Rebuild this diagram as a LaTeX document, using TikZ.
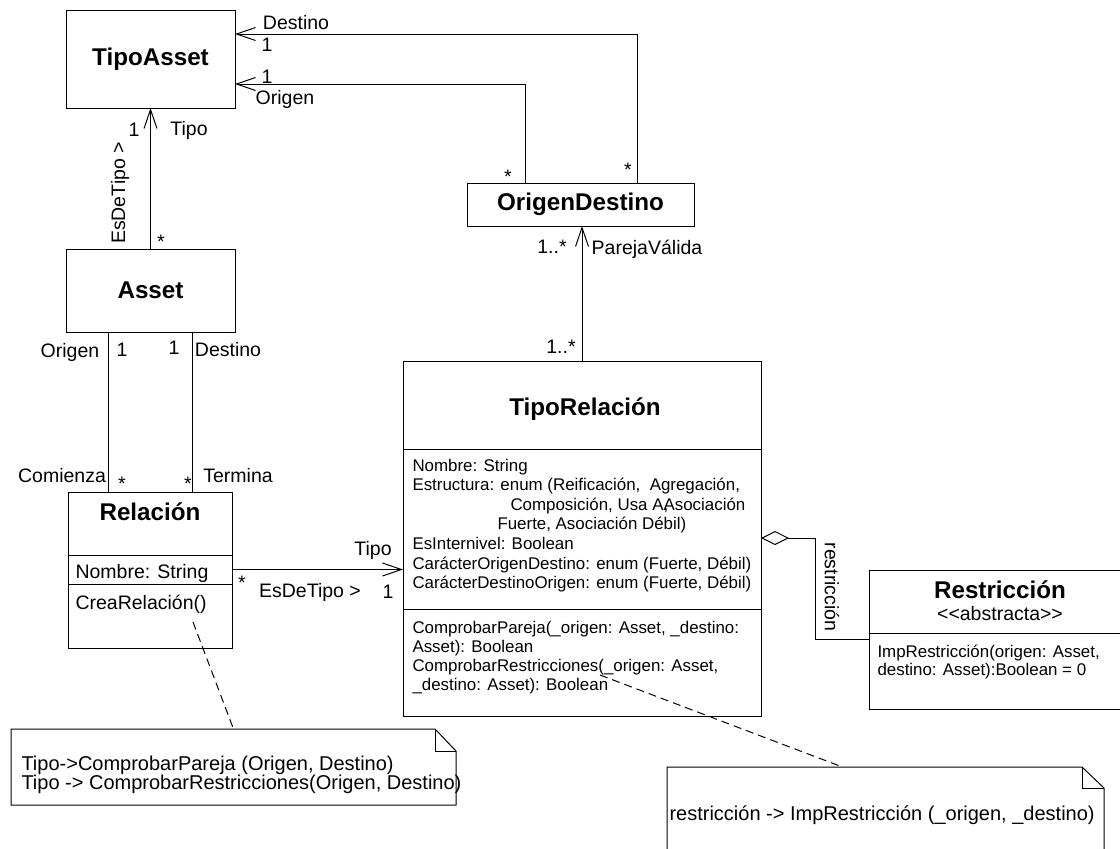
\documentclass[tikz,border=0pt]{standalone}
\usepackage{fontspec}
\setmainfont{Liberation Sans}
\usetikzlibrary{arrows.meta,calc}

\begin{document}
\begin{tikzpicture}[x=1pt,y=-1pt,line width=1pt,
  box/.style={draw, inner sep=0pt, outer sep=0pt},
  clsname/.style={font=\fontsize{24.2}{28}\selectfont\bfseries, inner sep=0pt},
  lbl/.style={font=\fontsize{19.5}{22}\selectfont, inner sep=0pt},
  txt/.style={font=\fontsize{16.9}{19.5}\selectfont, inner sep=0pt, anchor=base west},
  notetxt/.style={font=\fontsize{20}{22}\selectfont, inner sep=0pt, anchor=base west},
  nav/.style={-{Straight Barb[length=19pt,width=13pt]}},
  agg/.style={{Diamond[open,length=28pt,width=14pt]}-},
  notelink/.style={dash pattern=on 8pt off 5pt}]
\useasboundingbox (0,0) rectangle (1120,849);

\node[box, clsname, minimum width=169pt, minimum height=98pt] (tipoasset) at (150.5,59) {TipoAsset};
\node[box, clsname, minimum width=227pt, minimum height=43pt] (origdest) at (580.5,204.5) {OrigenDestino};
\node[box, clsname, minimum width=169pt, minimum height=83pt] (asset) at (150.5,290.5) {Asset};

\node[box, minimum width=164pt, minimum height=63pt] (relname) at (150,523.5) {};
\node[box, minimum width=164pt, minimum height=29pt] (relattr) at (150,569.5) {};
\node[box, minimum width=164pt, minimum height=64pt] (relops) at (150,616) {};
\node[clsname, anchor=base] (reltitle) at (150,520) {Relación};
\node[lbl, anchor=base west] (relnombre) at (75,578) {Nombre: String};
\node[lbl, anchor=base west] (relcrea) at (75,609) {CreaRelación()};

\node[box, minimum width=358pt, minimum height=88pt] (trname) at (582,405) {};
\node[box, minimum width=358pt, minimum height=160pt] (trattr) at (582,529) {};
\node[box, minimum width=358pt, minimum height=107pt] (trops) at (582,662.5) {};
\node[clsname, anchor=base] (trtitle) at (585,415) {TipoRelación};
\foreach \x/\t [count=\i from 0] in {412/{Nombre: String},
    412/{Estructura: enum (Reificación,\ \ Agregación,},
    510/{Composición, Usa A\rlap{,}Asociación},
    497/{Fuerte, Asociación Débil)},
    412/{EsInternivel: Boolean},
    412/{CarácterOrigenDestino: enum (Fuerte, Débil)},
    412/{CarácterDestinoOrigen: enum (Fuerte, Débil)}}
  \node[txt] (tra\i) at (\x,471+19.6*\i) {\t};
\foreach \t [count=\i from 0] in {{ComprobarPareja(\_origen: Asset, \_destino:},
    {Asset): Boolean},
    {ComprobarRestricciones(\_origen: Asset,},
    {\_destino: Asset): Boolean}}
  \node[txt] (trm\i) at (412,633+19*\i) {\t};

\node[box, minimum width=262pt, minimum height=63pt] (resname) at (1000,601.5) {};
\node[box, minimum width=262pt, minimum height=76pt] (resops) at (1000,671) {};
\node[clsname, anchor=base] (restitle) at (1000,598) {Restricción};
\node[lbl, anchor=base] (resster) at (1000,620) {{<}{<}abstracta{>}{>}};
\node[txt] (resm0) at (877,657) {ImpRestricción(origen: Asset,};
\node[txt] (resm1) at (877,675.5) {destino: Asset):Boolean = 0};

\draw[nav] (asset) -- (tipoasset);
\draw[nav] ([xshift=-55.5pt]origdest.north) |- ([yshift=-25pt]tipoasset.east);
\draw[nav] ([xshift=56.5pt]origdest.north) |- ([yshift=25pt]tipoasset.east);
\draw ([xshift=-42.5pt]asset.south) -- ([xshift=-42.5pt]asset.south |- relname.north);
\draw ([xshift=41.5pt]asset.south) -- ([xshift=41.5pt]asset.south |- relname.north);
\draw[nav] (relattr.east) -- (relattr.east -| trname.west);
\draw[nav] (trname.north) -- (trname.north |- origdest.south);
\draw[agg] ([yshift=-9pt]trattr.east) -- ++(54,0) |- ([yshift=32pt]resops.west);

\node[lbl] (dtDest) at (296,23) {Destino};
\node[lbl] (dtDestM) at (267,45) {1};
\node[lbl] (dtOrigM) at (267,77) {1};
\node[lbl] (dtOrig) at (285,99) {Origen};
\node[lbl] (odOrigM) at (508,177) {*};
\node[lbl] (odDestM) at (628,170) {*};
\node[lbl] (atOne) at (134,130) {1};
\node[lbl] (atTipo) at (189,130) {Tipo};
\node[lbl, rotate=90] (atRol) at (120,193) {EsDeTipo >};
\node[lbl] (atMany) at (161,242) {*};
\node[lbl] (pvM1) at (552,247) {1..*};
\node[lbl] (pvRol) at (647,249) {ParejaVálida};
\node[lbl] (pvM2) at (561,347) {1..*};
\node[lbl] (arOrig) at (70,352) {Origen};
\node[lbl] (arOrigM) at (122,350) {1};
\node[lbl] (arDestM) at (174,348) {1};
\node[lbl] (arDest) at (228,350) {Destino};
\node[lbl] (arCom) at (62,476) {Comienza};
\node[lbl] (arComM) at (122,484) {*};
\node[lbl] (arTerM) at (188,484) {*};
\node[lbl] (arTer) at (238,476) {Termina};
\node[lbl] (rtTipo) at (373,550) {Tipo};
\node[lbl] (rtMany) at (242,583) {*};
\node[lbl] (rtRol) at (310,592) {EsDeTipo >};
\node[lbl] (rtOne) at (388,592) {1};
\node[lbl, rotate=-90] (aggRol) at (832,587) {restricción};

\node[inner sep=0pt, minimum width=444pt, minimum height=75pt, anchor=north west] (note1) at (11,729) {};
\draw (note1.south west) -- (note1.north west) -- ([xshift=-21pt]note1.north east)
  -- ([yshift=-22pt]note1.north east) -- (note1.south east) -- cycle;
\draw ([xshift=-21pt]note1.north east) |- ([yshift=-22pt]note1.north east);
\node[notetxt] (note1a) at (21,770) {Tipo->ComprobarPareja (Origen, Destino)};
\node[notetxt] (note1b) at (21,789) {Tipo -> ComprobarRestricciones(Origen, Destino)};

\node[inner sep=0pt, minimum width=436pt, minimum height=100pt, anchor=north west] (note2) at (667,767) {};
\draw (note2.south west) -- (note2.north west) -- ([xshift=-22pt]note2.north east)
  -- ([yshift=-21pt]note2.north east) -- (note2.south east) -- cycle;
\draw ([xshift=-22pt]note2.north east) |- ([yshift=-21pt]note2.north east);
\node[notetxt] (note2a) at (669,820) {restricción -> ImpRestricción (\_origen, \_destino)};

\coordinate (relnote) at (193,622);
\coordinate (trnote) at (600,675);
\draw[notelink] (relnote) -- (note1.north);
\draw[notelink] (trnote) -- ([xshift=-43pt]note2.north);
\end{tikzpicture}
\end{document}
